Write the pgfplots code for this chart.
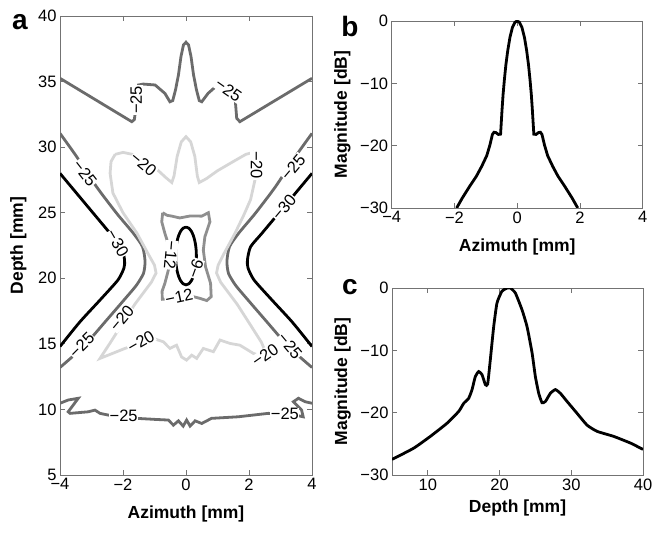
\documentclass[border=0pt]{standalone}
\usepackage{pgfplots}
\pgfplotsset{compat=1.18}
\usepackage{fontspec}
\setmainfont{Liberation Sans}
\definecolor{cA}{gray}{0}
\definecolor{cB}{gray}{0.42}
\definecolor{cC}{gray}{0.84}
\definecolor{cD}{gray}{0.56}
\definecolor{axgray}{gray}{0.45}
\pgfplotsset{
  myaxis/.style={
    scale only axis,
    /pgf/number format/assume math mode=true,
    axis line style={axgray, line width=0.8pt},
    every tick/.style={axgray, line width=0.8pt},
    major tick length=5pt,
    tick align=inside,
    xtick pos=both, ytick pos=both,
    tick label style={font=\fontsize{16.5}{18}\selectfont, text=black},
    label style={font=\bfseries\fontsize{17.5}{20}\selectfont},
  },
}
\tikzset{clab/.style={fill=white, inner sep=0.6pt, font=\fontsize{16.5}{16.5}\selectfont}}
\begin{document}
\begin{tikzpicture}
\useasboundingbox (0,0) rectangle (663pt,533pt);
% ---------------- panel a ----------------
\begin{axis}[myaxis, at={(60pt,58pt)}, anchor=south west,
  width=252pt, height=459pt,
  xmin=-4, xmax=4, ymin=5, ymax=40,
  xtick={-4,-2,0,2,4}, xticklabels={−4,−2,0,2,4},
  ytick={5,10,15,20,25,30,35,40}, yticklabels={5,10,15,20,25,30,35,40},
  xlabel={Azimuth [mm]}, ylabel={Depth [mm]},
  xlabel style={at={(axis description cs:0.5,-0.0937)}, anchor=base},
  ylabel style={at={(axis description cs:-0.147,0.5)}, anchor=base},
]
% -25 top (dark gray)
\addplot[cB, line width=2.8pt] coordinates {
(-4,35.25) (-1.72,31.94) (-1.64,32.1) (-1.6,32.8) (-1.57,34.2) (-1.51,34.74) (-1.36,34.81)
(-0.98,34.74) (-0.67,34.1) (-0.51,33.46) (-0.42,33.55) (-0.33,34.4) (-0.24,35.5) (-0.16,36.9)
(-0.08,37.8) (0,38.0) (0.08,37.8) (0.16,36.9) (0.24,35.5) (0.33,34.4) (0.42,33.55) (0.5,33.46)
(0.7,34.1) (1.03,34.8) (1.3,34.5) (1.56,33.7) (1.61,32.2) (1.71,31.94) (4,35.25)};
% -25 bottom wavy (dark gray)
\addplot[cB, line width=2.8pt] coordinates {
(-4,10.47) (-3.74,10.72) (-3.42,10.85) (-3.74,9.82) (-3.68,9.7) (-3.1,9.82) (-2.89,9.95)
(-2.73,9.7) (-2.47,9.57) (-1.98,9.45) (-1.57,9.32) (-0.98,9.24) (-0.56,9.19) (-0.40,8.8)
(-0.24,9.13) (-0.09,8.73) (0.02,9.19) (0.13,8.73) (0.29,9.13) (0.50,8.93) (0.81,9.32)
(1.66,9.44) (2.61,9.70) (3.14,9.65) (3.46,9.57) (3.72,9.44) (3.67,9.95) (3.41,10.59)
(3.57,10.85) (3.78,10.59) (4,10.47)};
% -25 sides (dark gray)
\addplot[cB, line width=2.8pt, smooth, tension=0.4] coordinates {
(-4,31.05) (-3.47,29.27) (-2.84,26.98) (-2.2,24.95) (-1.67,23.43) (-1.38,22.4) (-1.30,21.3)
(-1.35,20.37) (-1.57,19.48) (-1.88,18.59) (-2.52,16.81) (-3.26,14.78) (-4,13.2)};
\addplot[cB, line width=2.8pt, smooth, tension=0.4] coordinates {
(4,31.05) (3.47,29.27) (2.84,26.98) (2.2,24.95) (1.67,23.43) (1.38,22.4) (1.30,21.3)
(1.35,20.37) (1.57,19.48) (1.88,18.59) (2.52,16.81) (3.26,14.78) (4,13.2)};
% -30 sides (black)
\addplot[cA, line width=2.8pt, smooth, tension=0.4] coordinates {
(-4,28.0) (-3.2,25.7) (-2.41,23.43) (-2.05,22.4) (-1.95,21.4) (-1.97,20.78) (-2.16,19.87)
(-2.73,18.34) (-3.37,16.67) (-4,14.8)};
\addplot[cA, line width=2.8pt, smooth, tension=0.4] coordinates {
(4,28.0) (3.2,25.7) (2.41,23.43) (2.05,22.4) (1.95,21.4) (1.97,20.78) (2.16,19.87)
(2.73,18.34) (3.37,16.67) (4,14.8)};
% -20 (light gray)
\addplot[cC, line width=2.8pt] coordinates {
(-2.25,29.45) (-2.0,29.6) (-1.7,29.45) (-1.3,28.9) (-0.92,28.3) (-0.65,27.7) (-0.45,27.3)
(-0.38,27.8) (-0.28,29.3) (-0.15,30.4) (0,30.8) (0.15,30.4) (0.28,29.3) (0.36,27.8) (0.42,27.3)
(0.65,27.6) (1.0,28.2) (1.5,28.9) (1.9,29.45) (2.13,29.6) (2.22,29.2) (2.25,28.3) (2.19,27.5)
(2.05,26.0) (1.85,24.9) (1.56,23.45) (1.21,21.9) (1.02,21.0) (0.97,20.4) (1.1,19.7) (1.63,18.0)
(2.03,16.5) (2.4,15.1) (2.6,13.9) (2.14,14.27) (1.71,14.9) (1.40,15.03) (1.08,15.29) (0.87,14.4)
(0.55,14.65) (0.34,13.89) (0.18,14.14) (0.02,13.76) (-0.14,14.0) (-0.30,14.9) (-0.51,14.65)
(-0.72,15.16) (-1.04,15.41) (-1.94,14.65) (-2.73,13.89) (-2.4,15.1) (-2.03,16.5) (-1.63,18.0)
(-1.1,19.7) (-0.95,20.4) (-1.0,21.0) (-1.21,21.9) (-1.56,23.45) (-2.0,25.0) (-2.32,26.5)
(-2.41,28.0) (-2.38,28.9) (-2.25,29.45)};
% -12 (medium gray)
\addplot[cD, line width=2.8pt] coordinates {
(-0.74,25.0) (-0.6,24.8) (-0.45,24.74) (-0.2,24.6) (0.13,24.75) (0.5,24.74) (0.71,25.0)
(0.76,24.31) (0.60,23.17) (0.55,22.15) (0.62,20.88) (0.78,19.62) (0.80,18.6) (0.66,18.3)
(0.44,18.47) (0.23,18.6) (-0.25,18.6) (-0.5,18.45) (-0.75,18.4) (-0.76,19.0) (-0.67,19.62)
(-0.56,20.63) (-0.5,21.8) (-0.6,22.9) (-0.67,23.42) (-0.77,24.31) (-0.74,25.0)};
% -6 (black)
\addplot[cA, line width=2.8pt, smooth] coordinates {
(0,23.9) (0.0854,23.825) (0.165,23.605) (0.2333,23.256) (0.2858,22.8) (0.3188,22.269)
(0.33,21.7) (0.3188,21.131) (0.2858,20.6) (0.2333,20.144) (0.165,19.795) (0.0854,19.575)
(0,19.5) (-0.0854,19.575) (-0.165,19.795) (-0.2333,20.144) (-0.2858,20.6) (-0.3188,21.131)
(-0.33,21.7) (-0.3188,22.269) (-0.2858,22.8) (-0.2333,23.256) (-0.165,23.605) (-0.0854,23.825)
(0,23.9)};
% contour labels
\node[clab, rotate=90] at (axis cs:-1.58,33.6) {−25};
\node[clab, rotate=-35] at (axis cs:1.35,34.35) {−25};
\node[clab, rotate=-40] at (axis cs:-1.35,28.7) {−20};
\node[clab, rotate=-90] at (axis cs:2.24,28.63) {−20};
\node[clab, rotate=-52] at (axis cs:-3.21,28.02) {−25};
\node[clab, rotate=50] at (axis cs:3.40,28.48) {−25};
\node[clab, rotate=-60] at (axis cs:-2.17,22.69) {−30};
\node[clab, rotate=50] at (axis cs:3.11,25.43) {−30};
\node[clab, rotate=-95] at (axis cs:-0.48,21.77) {−12};
\node[clab, rotate=70] at (axis cs:0.3,20.75) {−6};
\node[clab, rotate=12] at (axis cs:-0.22,18.57) {−12};
\node[clab, rotate=45] at (axis cs:-3.31,14.9) {−25};
\node[clab, rotate=50] at (axis cs:-2.04,16.94) {−20};
\node[clab, rotate=30] at (axis cs:-1.43,15.16) {−20};
\node[clab, rotate=35] at (axis cs:2.51,14.14) {−20};
\node[clab, rotate=-50] at (axis cs:3.30,14.85) {−25};
\node[clab] at (axis cs:-1.98,9.5) {−25};
\node[clab] at (axis cs:3.14,9.65) {−25};
\end{axis}
% ---------------- panel b ----------------
\begin{axis}[myaxis, at={(391.7pt,325pt)}, anchor=south west,
  width=251pt, height=187pt,
  xmin=-4, xmax=4, ymin=-30, ymax=0,
  xtick={-4,-2,0,2,4}, xticklabels={−4,−2,0,2,4},
  ytick={-30,-20,-10,0}, yticklabels={−30,−20,−10,0},
  xlabel={Azimuth [mm]}, ylabel={Magnitude [dB]},
  xlabel style={at={(axis description cs:0.5,-0.23)}, anchor=base},
  ylabel style={at={(axis description cs:-0.179,0.5)}, anchor=base},
]
\addplot[black, line width=2.8pt] coordinates {
(-1.93,-30) (-1.75,-28.4) (-1.5,-26.4) (-1.3,-24.9) (-1.13,-23.3) (-0.97,-21.6) (-0.87,-19.9)
(-0.79,-18.2) (-0.74,-17.85) (-0.68,-17.9) (-0.6,-18.2) (-0.53,-18.15) (-0.51,-16.5) (-0.48,-14.0)
(-0.45,-11.8) (-0.41,-9.5) (-0.36,-7.0) (-0.30,-4.7) (-0.23,-2.6) (-0.15,-1.0) (-0.07,-0.2) (0,0)
(0.07,-0.2) (0.15,-1.0) (0.23,-2.6) (0.30,-4.7) (0.36,-7.0) (0.41,-9.5) (0.45,-11.8) (0.48,-14.0)
(0.51,-16.5) (0.53,-18.15) (0.6,-18.2) (0.68,-17.9) (0.74,-17.85) (0.79,-18.2) (0.87,-19.9)
(0.97,-21.6) (1.13,-23.3) (1.3,-24.9) (1.5,-26.4) (1.75,-28.4) (1.93,-30)};
\end{axis}
% ---------------- panel c ----------------
\begin{axis}[myaxis, at={(392pt,58pt)}, anchor=south west,
  width=251pt, height=187pt,
  xmin=5, xmax=40, ymin=-30, ymax=0,
  xtick={10,20,30,40}, xticklabels={10,20,30,40},
  ytick={-30,-20,-10,0}, yticklabels={−30,−20,−10,0},
  xlabel={Depth [mm]}, ylabel={Magnitude [dB]},
  xlabel style={at={(axis description cs:0.5,-0.198)}, anchor=base},
  ylabel style={at={(axis description cs:-0.179,0.5)}, anchor=base},
]
\addplot[black, line width=2.8pt, smooth, tension=0.3] coordinates {
(5,-27.5) (8.02,-25.7) (10.35,-23.8) (12.67,-21.7) (14.30,-19.8) (15.0,-18.5) (15.69,-17.7)
(16.16,-16.3) (16.62,-14.2) (17.09,-13.4) (17.55,-13.9) (18.02,-15.5) (18.34,-15.4) (18.71,-11.5)
(19.18,-6.2) (19.64,-2.4) (20.34,-0.5) (21.04,-0.02) (21.5,0) (22.2,-0.8) (23.13,-3.5) (23.83,-6.2)
(24.53,-10.4) (24.99,-14.2) (25.46,-16.9) (25.92,-18.4) (26.39,-18.2) (27.08,-16.9) (27.78,-16.3)
(28.48,-16.9) (29.41,-18.2) (30.8,-20.1) (32.2,-22.0) (33.6,-23.0) (35.9,-23.8) (38.3,-24.9)
(40,-25.9)};
\end{axis}
% panel letters
\node[anchor=base, font=\bfseries\fontsize{28}{28}\selectfont] at (20pt,503pt) {a};
\node[anchor=base, font=\bfseries\fontsize{28}{28}\selectfont] at (350pt,496pt) {b};
\node[anchor=base, font=\bfseries\fontsize{28}{28}\selectfont] at (350pt,238pt) {c};
\end{tikzpicture}
\end{document}
